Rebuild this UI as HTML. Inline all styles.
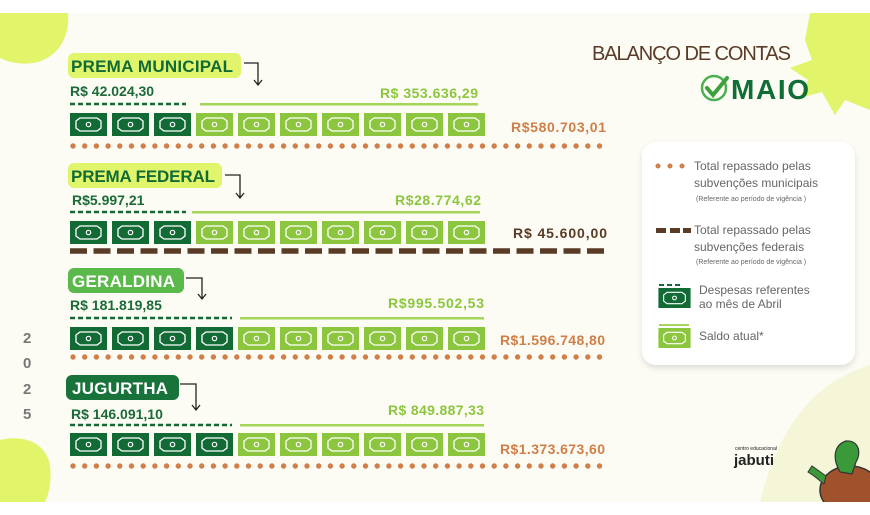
<!DOCTYPE html>
<html><head><meta charset="utf-8">
<style>
html,body{margin:0;padding:0;background:#fff;}
svg{display:block}
text{font-family:"Liberation Sans",sans-serif;}
</style></head>
<body>
<svg width="870" height="515" viewBox="0 0 870 515" xmlns="http://www.w3.org/2000/svg">
<defs>
<symbol id="bd" viewBox="0 0 37 23"><rect width="37" height="23" fill="#126b35"/><path d="M6 8 L10 5 H27 L31 8 V15 L27 18 H10 L6 15 Z" fill="none" stroke="#fff" stroke-width="1.3"/><circle cx="18.5" cy="11.5" r="2.2" fill="none" stroke="#fff" stroke-width="1.2"/></symbol>
<symbol id="bl" viewBox="0 0 37 23"><rect width="37" height="23" fill="#8cc63f"/><path d="M6 8 L10 5 H27 L31 8 V15 L27 18 H10 L6 15 Z" fill="none" stroke="#fff" stroke-width="1.3"/><circle cx="18.5" cy="11.5" r="2.2" fill="none" stroke="#fff" stroke-width="1.2"/></symbol>
<filter id="sh" x="-10%" y="-10%" width="120%" height="130%"><feDropShadow dx="0" dy="3" stdDeviation="3" flood-color="#000" flood-opacity="0.12"/></filter>
</defs>
<rect x="0" y="13" width="870" height="489" fill="#fcfbf4"/>
<!-- blobs -->
<path d="M0 13 H68 C70 35 60 55 38 62 C22 66 8 62 0 58 Z" fill="#e2f46a"/>
<path d="M810 13 L870 13 L870 110 L845 100 L835 115 L822 92 L800 98 L808 80 L790 68 L812 60 L805 40 Z" fill="#e2f46a"/>
<path d="M0 440 C20 435 45 440 50 465 C52 485 48 495 45 502 H0 Z" fill="#e2f46a"/>
<path d="M760 502 C780 420 820 380 870 365 V502 Z" fill="#f5f6d8"/>
<!-- title -->
<text x="592" y="60" font-size="20" fill="#5a3b26" textLength="199">BALANÇO DE CONTAS</text>
<circle cx="714" cy="88" r="12" fill="none" stroke="#4caf50" stroke-width="2.5"/>
<path d="M707 88 L713 95 L727 78" fill="none" stroke="#3ca03c" stroke-width="4" stroke-linecap="round"/>
<text x="731" y="99" font-size="28" fill="#0f6d36" font-weight="bold" textLength="78">MAIO</text>

<g stroke-linecap="round">
<line x1="73" y1="146" x2="605" y2="146" stroke="#cf7f47" stroke-width="5.4" stroke-dasharray="0 11.7"/>
<line x1="73" y1="357" x2="605" y2="357" stroke="#cf7f47" stroke-width="5.4" stroke-dasharray="0 11.7"/>
<line x1="73" y1="466" x2="605" y2="466" stroke="#cf7f47" stroke-width="5.4" stroke-dasharray="0 11.7"/>
</g>
<line x1="70" y1="251" x2="606" y2="251" stroke="#5a3b26" stroke-width="5.5" stroke-dasharray="17 6.5"/>
<g stroke="#126b35" stroke-width="2.5" stroke-dasharray="5 3">
<line x1="70" y1="104" x2="186" y2="104"/>
<line x1="70" y1="212" x2="186" y2="212"/>
<line x1="70" y1="318" x2="232" y2="318"/>
<line x1="70" y1="425" x2="232" y2="425"/>
</g>

<!-- ROW 1 -->
<rect x="68" y="53" width="173" height="25" rx="6" fill="#e1f56c"/>
<text x="71" y="72" font-size="17" font-weight="bold" fill="#126b35" textLength="162">PREMA MUNICIPAL</text>
<path d="M244 63 H258 V84 M254 80 L258 85 L262 80" fill="none" stroke="#222" stroke-width="1.3"/>
<text x="70" y="96" font-size="14" font-weight="bold" fill="#1b6b38">R$ 42.024,30</text>
<rect x="200" y="103" width="278" height="2.5" fill="#a5d65a"/>
<text x="380" y="98" font-size="14" font-weight="bold" fill="#8cc63f" textLength="98">R$ 353.636,29</text>
<use href="#bd" x="70" y="113" width="37" height="23"/><use href="#bd" x="112" y="113" width="37" height="23"/><use href="#bd" x="154" y="113" width="37" height="23"/>
<use href="#bl" x="196" y="113" width="37" height="23"/><use href="#bl" x="238" y="113" width="37" height="23"/><use href="#bl" x="280" y="113" width="37" height="23"/><use href="#bl" x="322" y="113" width="37" height="23"/><use href="#bl" x="364" y="113" width="37" height="23"/><use href="#bl" x="406" y="113" width="37" height="23"/><use href="#bl" x="448" y="113" width="37" height="23"/>
<text x="511" y="132" font-size="14" font-weight="bold" fill="#cf7f47" textLength="95">R$580.703,01</text>

<!-- ROW 2 -->
<rect x="68" y="163" width="154" height="25" rx="6" fill="#e1f56c"/>
<text x="71" y="182" font-size="17" font-weight="bold" fill="#126b35" textLength="144">PREMA FEDERAL</text>
<path d="M225 175 H240 V197 M236 193 L240 198 L244 193" fill="none" stroke="#222" stroke-width="1.3"/>
<text x="72" y="205" font-size="14" font-weight="bold" fill="#1b6b38">R$5.997,21</text>
<rect x="192" y="211" width="288" height="2.5" fill="#a5d65a"/>
<text x="395" y="205" font-size="14" font-weight="bold" fill="#8cc63f" textLength="86">R$28.774,62</text>
<use href="#bd" x="70" y="221" width="37" height="23"/><use href="#bd" x="112" y="221" width="37" height="23"/><use href="#bd" x="154" y="221" width="37" height="23"/>
<use href="#bl" x="196" y="221" width="37" height="23"/><use href="#bl" x="238" y="221" width="37" height="23"/><use href="#bl" x="280" y="221" width="37" height="23"/><use href="#bl" x="322" y="221" width="37" height="23"/><use href="#bl" x="364" y="221" width="37" height="23"/><use href="#bl" x="406" y="221" width="37" height="23"/><use href="#bl" x="448" y="221" width="37" height="23"/>
<text x="513" y="238" font-size="14" font-weight="bold" fill="#5a3b26" textLength="94">R$ 45.600,00</text>

<!-- ROW 3 -->
<rect x="68" y="268" width="116" height="25" rx="6" fill="#5bb84a"/>
<text x="72" y="287" font-size="17" font-weight="bold" fill="#fff" textLength="103">GERALDINA</text>
<path d="M186 278 H202 V298 M198 294 L202 299 L206 294" fill="none" stroke="#222" stroke-width="1.3"/>
<text x="70" y="310" font-size="14" font-weight="bold" fill="#1b6b38">R$ 181.819,85</text>
<rect x="240" y="317" width="244" height="2.5" fill="#a5d65a"/>
<text x="388" y="308" font-size="14" font-weight="bold" fill="#8cc63f" textLength="96">R$995.502,53</text>
<use href="#bd" x="70" y="327" width="37" height="23"/><use href="#bd" x="112" y="327" width="37" height="23"/><use href="#bd" x="154" y="327" width="37" height="23"/><use href="#bd" x="196" y="327" width="37" height="23"/>
<use href="#bl" x="238" y="327" width="37" height="23"/><use href="#bl" x="280" y="327" width="37" height="23"/><use href="#bl" x="322" y="327" width="37" height="23"/><use href="#bl" x="364" y="327" width="37" height="23"/><use href="#bl" x="406" y="327" width="37" height="23"/><use href="#bl" x="448" y="327" width="37" height="23"/>
<text x="500" y="345" font-size="14" font-weight="bold" fill="#cf7f47" textLength="105">R$1.596.748,80</text>

<!-- ROW 4 -->
<rect x="66" y="375" width="113" height="25" rx="6" fill="#17733a"/>
<text x="72" y="394" font-size="17" font-weight="bold" fill="#fff" textLength="96">JUGURTHA</text>
<path d="M180 384 H196 V409 M192 405 L196 410 L200 405" fill="none" stroke="#222" stroke-width="1.3"/>
<text x="71" y="419" font-size="14" font-weight="bold" fill="#1b6b38">R$ 146.091,10</text>
<rect x="240" y="424" width="244" height="2.5" fill="#a5d65a"/>
<text x="388" y="415" font-size="14" font-weight="bold" fill="#8cc63f" textLength="96">R$ 849.887,33</text>
<use href="#bd" x="70" y="433" width="37" height="23"/><use href="#bd" x="112" y="433" width="37" height="23"/><use href="#bd" x="154" y="433" width="37" height="23"/><use href="#bd" x="196" y="433" width="37" height="23"/>
<use href="#bl" x="238" y="433" width="37" height="23"/><use href="#bl" x="280" y="433" width="37" height="23"/><use href="#bl" x="322" y="433" width="37" height="23"/><use href="#bl" x="364" y="433" width="37" height="23"/><use href="#bl" x="406" y="433" width="37" height="23"/><use href="#bl" x="448" y="433" width="37" height="23"/>
<text x="500" y="454" font-size="14" font-weight="bold" fill="#cf7f47" textLength="105">R$1.373.673,60</text>

<!-- year -->
<g font-size="15" font-weight="bold" fill="#777">
<text x="23" y="343">2</text><text x="23" y="368">0</text><text x="23" y="394">2</text><text x="23" y="419">5</text>
</g>

<!-- legend -->
<rect x="642" y="142" width="213" height="223" rx="14" fill="#fff" filter="url(#sh)"/>
<circle cx="658" cy="166" r="2.5" fill="#cf7f47"/><circle cx="670" cy="166" r="2.5" fill="#cf7f47"/><circle cx="682" cy="166" r="2.5" fill="#cf7f47"/>
<g font-size="12" fill="#666">
<text x="694" y="170">Total repassado pelas</text>
<text x="694" y="187">subvenções municipais</text>
<text x="694" y="234">Total repassado pelas</text>
<text x="694" y="251">subvenções federais</text>
<text x="699" y="294">Despesas referentes</text>
<text x="699" y="308">ao mês de Abril</text>
<text x="699" y="340">Saldo atual*</text>
</g>
<g font-size="7" fill="#666">
<text x="696" y="201">(Referente ao período de vigência )</text>
<text x="696" y="264">(Referente ao período de vigência )</text>
</g>
<rect x="656" y="228" width="10" height="5" fill="#5a3b26"/><rect x="670" y="228" width="10" height="5" fill="#5a3b26"/><rect x="683" y="228" width="8" height="5" fill="#5a3b26"/>
<line x1="659" y1="285" x2="683" y2="285" stroke="#126b35" stroke-width="2" stroke-dasharray="5 3"/>
<use href="#bd" x="658" y="288" width="33" height="20"/>
<rect x="659" y="324" width="30" height="2" fill="#a5d65a"/>
<use href="#bl" x="658" y="328" width="33" height="20"/>

<!-- logo -->
<text x="735" y="450" font-size="5" fill="#222">centro educacional</text>
<text x="734" y="465" font-size="15" font-weight="bold" fill="#222">jabuti</text>
<!-- turtle -->
<ellipse cx="850" cy="490" rx="30" ry="24" fill="#a0522d" stroke="#333" stroke-width="1.5"/>
<path d="M840 472 C832 458 834 445 846 441 C858 440 862 452 856 462 L852 474 Z" fill="#3a9a3a" stroke="#333" stroke-width="1.2"/>
<path d="M826 476 L812 466 L808 472 L814 476 L824 484 Z" fill="#3a9a3a" stroke="#333" stroke-width="1"/>
<rect x="0" y="502" width="870" height="13" fill="#fff"/>
</svg>
</body></html>
